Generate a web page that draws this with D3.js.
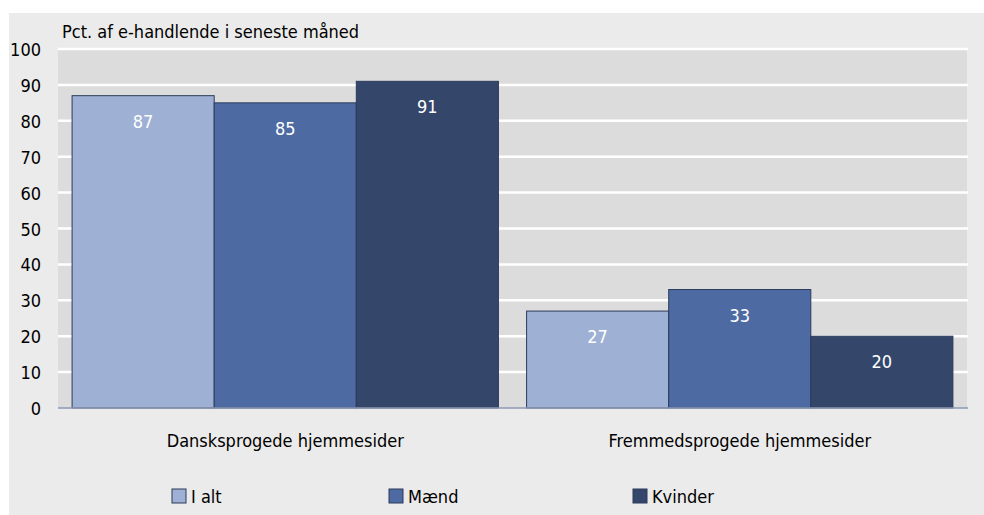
<!DOCTYPE html>
<html>
<head>
<meta charset="utf-8">
<script src="https://cdn.jsdelivr.net/npm/d3@7"></script>
<style>
  body { margin: 0; background: #ffffff; }
  text { font-family: "DejaVu Sans Condensed", "Open Sans", sans-serif; }
</style>
</head>
<body>
<div id="chart"></div>
<script>
// data
var categories = ["Dansksprogede hjemmesider", "Fremmedsprogede hjemmesider"];
var seriesNames = ["I alt", "Mænd", "Kvinder"];
var ialt = [87, 27];
var maend = [85, 33];
var kvinder = [91, 20];
var yTicks = [0, 10, 20, 30, 40, 50, 60, 70, 80, 90, 100];
var colors = ["#9eb0d4", "#4d6ba2", "#34476b"];

var svg_width = 984;
var svg_height = 515;
var margins = { top: 49, bottom: 107, left: 58, right: 17 };
var height = svg_height - margins.top - margins.bottom;
var width = svg_width - margins.left - margins.right;
var fs = "18px";

var svg = d3.select("#chart")
  .append("svg")
  .attr("width", svg_width)
  .attr("height", svg_height);

// outer background
svg.append("rect")
  .attr("x", 9).attr("y", 13)
  .attr("width", svg_width - 9).attr("height", svg_height - 13)
  .style("fill", "#ebebeb");

var g = svg.append("g")
  .attr("transform", "translate(" + margins.left + "," + margins.top + ")");

// plot area
g.append("rect")
  .attr("width", width).attr("height", height)
  .style("fill", "#dcdcdc");

var x0 = d3.scaleBand()
  .domain(categories)
  .range([0, width])
  .paddingInner(0.062)
  .paddingOuter(0.031);

var x1 = d3.scaleBand()
  .domain(seriesNames)
  .range([0, x0.bandwidth()]);

var y = d3.scaleLinear()
  .domain([0, 100])
  .range([height, 0]);

// gridlines
g.append("g")
  .selectAll("line")
  .data(yTicks.filter(d => d > 0))
  .enter().append("line")
  .attr("x1", 0).attr("x2", width + 1)
  .attr("y1", d => y(d)).attr("y2", d => y(d))
  .style("stroke", "#ffffff")
  .style("stroke-width", 2.5);

// bars
var table = categories.map((c, i) => ({
  cat: c,
  vals: [ialt[i], maend[i], kvinder[i]].map((v, j) => ({ name: seriesNames[j], value: v, color: colors[j] }))
}));

var groups = g.selectAll("g.grp")
  .data(table)
  .enter().append("g")
  .attr("class", "grp")
  .attr("transform", d => "translate(" + x0(d.cat) + ",0)");

groups.selectAll("rect")
  .data(d => d.vals)
  .enter().append("rect")
  .attr("x", d => x1(d.name))
  .attr("y", d => y(d.value))
  .attr("width", x1.bandwidth())
  .attr("height", d => height - y(d.value))
  .style("fill", d => d.color)
  .style("stroke", "#2c3b5b")
  .style("stroke-width", 1);

groups.selectAll("text")
  .data(d => d.vals)
  .enter().append("text")
  .attr("x", d => x1(d.name) + x1.bandwidth() / 2)
  .attr("y", d => y(d.value) + 32)
  .attr("text-anchor", "middle")
  .style("fill", "#ffffff")
  .style("font-size", fs)
  .text(d => d.value);

// x axis line
g.append("line")
  .attr("x1", 0).attr("x2", width + 1)
  .attr("y1", height).attr("y2", height)
  .style("stroke", "#8d9ab4")
  .style("stroke-width", 1.5);

// y tick labels
g.append("g")
  .selectAll("text")
  .data(yTicks)
  .enter().append("text")
  .attr("x", -17)
  .attr("y", d => y(d) + 7)
  .attr("text-anchor", "end")
  .style("font-size", fs)
  .style("fill", "#000000")
  .text(d => d);

// category labels
g.append("g")
  .selectAll("text")
  .data(categories)
  .enter().append("text")
  .attr("x", d => x0(d) + x0.bandwidth() / 2)
  .attr("y", height + 39)
  .attr("text-anchor", "middle")
  .style("font-size", fs)
  .text(d => d);

// title
svg.append("text")
  .attr("x", 62).attr("y", 38)
  .style("font-size", fs)
  .text("Pct. af e-handlende i seneste måned");

// legend
var legendX = [172, 389, 633];
var legend = svg.append("g")
  .selectAll("g")
  .data(seriesNames)
  .enter().append("g")
  .attr("transform", (d, i) => "translate(" + legendX[i] + ",489)");

legend.append("rect")
  .attr("width", 14).attr("height", 14)
  .style("fill", (d, i) => colors[i])
  .style("stroke", "#2c3b5b")
  .style("stroke-width", 1);

legend.append("text")
  .attr("x", 19).attr("y", 14)
  .style("font-size", fs)
  .text(d => d);
</script>
</body>
</html>
